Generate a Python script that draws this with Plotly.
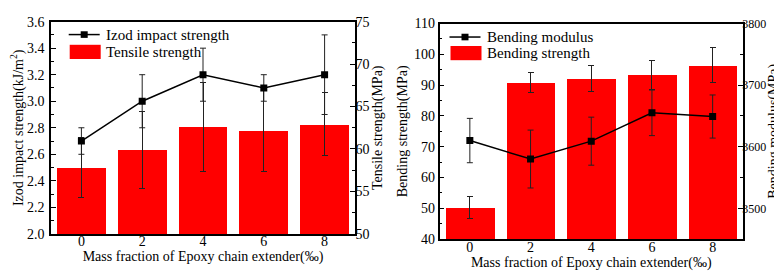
import plotly.graph_objects as go

# ---------------- data ----------------
x_vals = [0, 2, 4, 6, 8]
x_ticks = ["0", "2", "4", "6", "8"]

izod_impact = [2.7, 3.0, 3.2, 3.1, 3.2]
izod_err = [0.1, 0.2, 0.2, 0.1, 0.3]
tensile = [57.8, 59.9, 62.6, 62.2, 62.9]
tensile_err = [3.5, 4.5, 5.2, 4.8, 3.7]

bending_strength = [50.3, 90.8, 92.1, 93.3, 96.5]
bending_strength_err = [3.6, 3.3, 4.3, 4.8, 5.7]
bending_modulus = [3610, 3580, 3609, 3655, 3649]
bending_modulus_err = [36, 47, 39, 37, 35]

# ---------------- layout helpers ----------------
W, H = 782, 276
FONT = "Liberation Serif, Times New Roman, serif"
RED = "#FF0000"


def px_x(p):
    return p / W


def px_y(p):
    return 1 - p / H


fig = go.Figure()

fig.add_trace(go.Bar(
    x=x_vals, y=tensile, width=1.6, marker=dict(color=RED, line=dict(width=0)),
    error_y=dict(type="data", array=tensile_err, color="#222", thickness=1, width=3),
    xaxis="x", yaxis="y", showlegend=False, name="Tensile strength"))
fig.add_trace(go.Scatter(
    x=x_vals, y=izod_impact, mode="lines+markers",
    line=dict(color="black", width=1.5),
    marker=dict(symbol="square", size=7, color="black"),
    error_y=dict(type="data", array=izod_err, color="#222", thickness=1, width=3),
    xaxis="x", yaxis="y2", showlegend=False, name="Izod impact strength"))

fig.add_trace(go.Bar(
    x=x_vals, y=bending_strength, width=1.6, marker=dict(color=RED, line=dict(width=0)),
    error_y=dict(type="data", array=bending_strength_err, color="#222", thickness=1, width=3),
    xaxis="x2", yaxis="y3", showlegend=False, name="Bending strength"))
fig.add_trace(go.Scatter(
    x=x_vals, y=bending_modulus, mode="lines+markers",
    line=dict(color="black", width=1.5),
    marker=dict(symbol="square", size=7, color="black"),
    error_y=dict(type="data", array=bending_modulus_err, color="#222", thickness=1, width=3),
    xaxis="x2", yaxis="y4", showlegend=False, name="Bending modulus"))

tickfont = dict(family=FONT, size=14, color="black")
titlefont = dict(family=FONT, size=14, color="black")


def axis(**kw):
    base = dict(
        showline=True, linecolor="black", linewidth=1.5, ticks="inside", ticklen=5,
        tickwidth=1, tickcolor="black", showgrid=False, zeroline=False,
        tickfont=tickfont, title_font=titlefont,
    )
    base.update(kw)
    return base


minor = dict(ticks="inside", ticklen=3, tickwidth=1, tickcolor="black", showgrid=False)

L_dom_x = [px_x(43), px_x(347)]
L_dom_y = [px_y(231.5), px_y(7)]
R_dom_x = [px_x(431.5), px_x(735)]
R_dom_y = [px_y(237), px_y(9)]

xtitle = "Mass fraction of Epoxy chain extender(‰)"

fig.update_layout(
    width=W, height=H, margin=dict(l=0, r=0, t=0, b=0),
    paper_bgcolor="white", plot_bgcolor="white", bargap=0,
    font=dict(family=FONT, color="black"),
    xaxis=axis(domain=L_dom_x, range=[-1, 9], tickvals=x_vals, ticktext=x_ticks,
               anchor="y", mirror=True, title=dict(text=xtitle, standoff=3), ticks="",
               ticklabelstandoff=-6),
    yaxis=axis(domain=L_dom_y, range=[50, 75], dtick=5, side="right",
               anchor="x", title=dict(text="Tensile strength(MPa)", standoff=2),
               minor=dict(dtick=2.5, **minor), ticklabelstandoff=-4),
    yaxis2=axis(range=[2.0, 3.6], dtick=0.2, tickformat=".1f", side="left",
                overlaying="y", anchor="x",
                title=dict(text="Izod impact strength(kJ/m<sup>2</sup>)", standoff=2),
                minor=dict(dtick=0.1, **minor), ticklabelstandoff=2),
    xaxis2=axis(domain=R_dom_x, range=[-1, 9], tickvals=x_vals, ticktext=x_ticks,
                anchor="y3", mirror=True, title=dict(text=xtitle, standoff=3), ticks="",
                ticklabelstandoff=-6),
    yaxis3=axis(domain=R_dom_y, range=[40, 110], dtick=10, side="left",
                anchor="x2", title=dict(text="Bending strength(MPa)", standoff=3),
                minor=dict(dtick=5, **minor)),
    yaxis4=axis(range=[3450, 3800], dtick=100, side="right",
                overlaying="y3", anchor="x2",
                tickfont=dict(family=FONT, size=12, color="black"),
                title=dict(text="Bending modulus(MPa)", standoff=0),
                minor=dict(dtick=50, **minor), ticklabelstandoff=-5),
)

# ---------------- custom legends ----------------
shapes = []
annotations = []


def legend_block(x0, y_line, y_box, line_label, bar_label):
    shapes.append(dict(type="line", xref="paper", yref="paper",
                       x0=px_x(x0), x1=px_x(x0 + 31), y0=px_y(y_line), y1=px_y(y_line),
                       line=dict(color="black", width=1.5)))
    cx = x0 + 15.5
    shapes.append(dict(type="rect", xref="paper", yref="paper",
                       x0=px_x(cx - 3.5), x1=px_x(cx + 3.5), y0=px_y(y_line + 3.5), y1=px_y(y_line - 3.5),
                       fillcolor="black", line=dict(width=0)))
    shapes.append(dict(type="rect", xref="paper", yref="paper",
                       x0=px_x(x0 + 1), x1=px_x(x0 + 32), y0=px_y(y_box + 7.5), y1=px_y(y_box - 7.5),
                       fillcolor=RED, line=dict(width=0)))
    annotations.append(dict(xref="paper", yref="paper", x=px_x(x0 + 35), y=px_y(y_line),
                            text=line_label, showarrow=False, xanchor="left", yanchor="middle",
                            font=dict(family=FONT, size=15, color="black")))
    annotations.append(dict(xref="paper", yref="paper", x=px_x(x0 + 35), y=px_y(y_box),
                            text=bar_label, showarrow=False, xanchor="left", yanchor="middle",
                            font=dict(family=FONT, size=15, color="black")))


legend_block(60.7, 20.7, 39, "Izod impact strength", "Tensile strength")
legend_block(441.5, 23.3, 40.3, "Bending modulus", "Bending strength")

fig.update_layout(shapes=shapes, annotations=annotations)

fig.write_html("out.html")
